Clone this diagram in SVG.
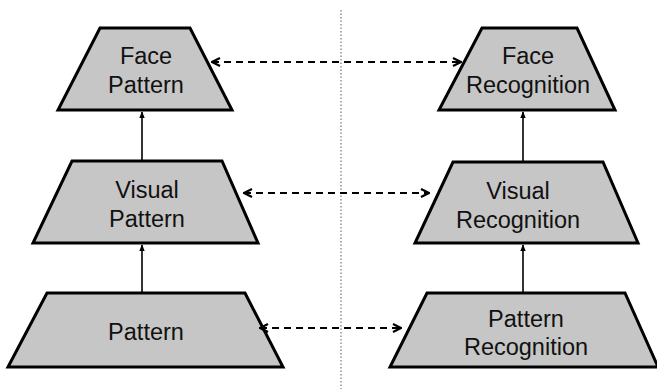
<svg xmlns="http://www.w3.org/2000/svg" width="657" height="389" viewBox="0 0 657 389">
<defs>
<style>
.node polygon{fill:#c6c6c6;stroke:#000;stroke-width:3;stroke-linejoin:miter}
.node text{font-family:"Liberation Sans",Arial,sans-serif;font-size:23.5px;fill:#111;text-anchor:middle}
.solid{stroke:#000;stroke-width:1.6;fill:none}
.dash{stroke:#000;stroke-width:2.2;fill:none;stroke-dasharray:7 5}
.divider{stroke:#777;stroke-width:1.2;stroke-dasharray:1.5 2;fill:none}
</style>
<marker id="tri" viewBox="0 0 10 10" refX="9" refY="5" markerWidth="7" markerHeight="8" markerUnits="userSpaceOnUse" orient="auto">
<path d="M0,1 L10,5 L0,9 z" fill="#000"/>
</marker>
<marker id="chev" viewBox="0 0 10 10" refX="9" refY="5" markerWidth="10" markerHeight="10" markerUnits="userSpaceOnUse" orient="auto-start-reverse">
<path d="M1,1 L9,5 L1,9" fill="none" stroke="#000" stroke-width="2.2"/>
</marker>
</defs>
<rect width="657" height="389" fill="#fff"/>
<line class="divider" x1="341" y1="10" x2="341" y2="389"/>
<g id="face-pattern" class="node">
<polygon points="100,28 190,28 232,110 58,110"/>
<text x="146" y="64">Face</text>
<text x="146" y="93">Pattern</text>
</g>
<g id="face-recognition" class="node">
<polygon points="482,28 577,28 615,110 439,110"/>
<text x="528" y="64">Face</text>
<text x="528" y="93">Recognition</text>
</g>
<g id="visual-pattern" class="node">
<polygon points="72,161 222,161 258,243 33,243"/>
<text x="147" y="198">Visual</text>
<text x="147" y="227">Pattern</text>
</g>
<g id="visual-recognition" class="node">
<polygon points="453,162 603,162 638,243 415,243"/>
<text x="518" y="199">Visual</text>
<text x="518" y="228">Recognition</text>
</g>
<g id="pattern" class="node">
<polygon points="47,293 245,293 283,367 8,367"/>
<text x="146" y="340">Pattern</text>
</g>
<g id="pattern-recognition" class="node">
<polygon points="427,293 625,293 658,367 390,367"/>
<text x="526" y="327">Pattern</text>
<text x="526" y="355">Recognition</text>
</g>
<g id="connectors">
<line class="solid" x1="142" y1="160" x2="142" y2="112" marker-end="url(#tri)"/>
<line class="solid" x1="142" y1="292" x2="142" y2="245" marker-end="url(#tri)"/>
<line class="solid" x1="523" y1="161" x2="523" y2="112" marker-end="url(#tri)"/>
<line class="solid" x1="523" y1="292" x2="523" y2="245" marker-end="url(#tri)"/>
<line class="dash" x1="212" y1="62" x2="461" y2="62" marker-start="url(#chev)" marker-end="url(#chev)"/>
<line class="dash" x1="244" y1="193" x2="429" y2="193" marker-start="url(#chev)" marker-end="url(#chev)"/>
<line class="dash" x1="260" y1="328" x2="401" y2="328" marker-start="url(#chev)" marker-end="url(#chev)"/>
</g>
</svg>
